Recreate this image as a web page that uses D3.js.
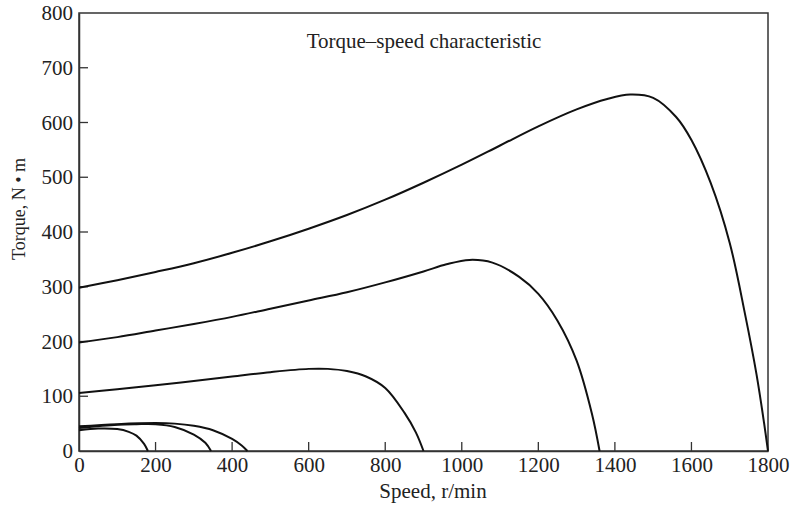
<!DOCTYPE html>
<html><head><meta charset="utf-8">
<script src="https://cdn.jsdelivr.net/npm/d3@7/dist/d3.min.js"></script>
<style>body{margin:0;background:#fff}svg{display:block}text{font-family:"Liberation Serif","DejaVu Serif",serif;fill:#222}</style>
</head><body><svg id="c" width="791" height="509"></svg>
<script>
const xTicks = [0,200,400,600,800,1000,1200,1400,1600,1800];
const yTicks = [0,100,200,300,400,500,600,700,800];
const curve1Speed = [0,100,200,300,400,500,600,700,800,900,1000,1100,1200,1300,1380,1440,1500,1560,1600,1650,1700,1740,1770,1790,1800];
const curve1Torque = [298,312,327,343,362,383,406,431,459,490,523,558,593,624,643,651,645,610,568,490,380,250,140,50,0];
const curve2Speed = [0,100,200,300,400,500,600,700,800,900,960,1020,1080,1150,1200,1250,1300,1340,1360];
const curve2Torque = [198,208,220,232,245,260,275,290,308,328,341,349,344,318,287,238,165,68,0];
const curve3Speed = [0,100,200,300,400,500,600,650,700,750,800,850,880,900];
const curve3Torque = [106,113,120,128,136,144,150,150,146,136,115,70,34,0];
const curve4Speed = [0,100,200,250,300,350,400,425,440];
const curve4Torque = [45,49,51,50,46,38,22,10,0];
const curve5Speed = [0,100,150,200,250,300,330,345];
const curve5Torque = [42,48,49,49,44,30,15,0];
const curve6Speed = [0,50,100,130,150,170,180];
const curve6Torque = [38,41,40,35,28,13,0];

const svg = d3.select("#c");
const x = d3.scaleLinear().domain([0,1800]).range([79,768]);
const y = d3.scaleLinear().domain([0,800]).range([451,13]);

svg.append("rect").attr("x",79).attr("y",13).attr("width",689).attr("height",438)
  .attr("fill","none").attr("stroke","#333").attr("stroke-width",1.5);

const fmt = d3.format("d");
const gx = svg.append("g").attr("transform","translate(0,451)")
  .call(d3.axisBottom(x).tickValues(xTicks).tickFormat(fmt).tickSize(0).tickPadding(7));
const gy = svg.append("g").attr("transform","translate(79,0)")
  .call(d3.axisLeft(y).tickValues(yTicks).tickFormat(fmt).tickSize(0).tickPadding(6));
[gx,gy].forEach(g=>{
  g.select(".domain").attr("stroke","#333").attr("stroke-width",1.5);
  g.selectAll(".tick text").attr("font-size",21).attr("fill","#222")
   .style("font-family","'Liberation Serif',serif");
});
gx.selectAll(".tick text").attr("y",6).attr("dy","0.71em");

// inward tick marks
svg.append("g").selectAll("line").data(xTicks.slice(1,-1)).join("line")
  .attr("x1",d=>x(d)).attr("x2",d=>x(d)).attr("y1",y(0)).attr("y2",y(0)-9)
  .attr("stroke","#333").attr("stroke-width",1.3);
svg.append("g").selectAll("line").data(yTicks.slice(1,-1)).join("line")
  .attr("x1",x(0)).attr("x2",x(0)+9).attr("y1",d=>y(d)).attr("y2",d=>y(d))
  .attr("stroke","#333").attr("stroke-width",1.3);

const line = d3.line().x(d=>x(d[0])).y(d=>y(d[1])).curve(d3.curveCatmullRom.alpha(0.5));
const series = [
  [curve1Speed,curve1Torque],[curve2Speed,curve2Torque],[curve3Speed,curve3Torque],
  [curve4Speed,curve4Torque],[curve5Speed,curve5Torque],[curve6Speed,curve6Torque]
];
series.forEach(([s,t])=>{
  svg.append("path").datum(s.map((v,i)=>[v,t[i]])).attr("d",line)
    .attr("fill","none").attr("stroke","#111").attr("stroke-width",2);
});

svg.append("text").attr("x",424).attr("y",48).attr("text-anchor","middle")
  .attr("font-size",21).text("Torque–speed characteristic");
svg.append("text").attr("x",433).attr("y",498).attr("text-anchor","middle")
  .attr("font-size",21).text("Speed, r/min");
svg.append("text").attr("transform","translate(25,209) rotate(-90)").attr("text-anchor","middle")
  .attr("font-size",18).text("Torque, N • m");
</script></body></html>
